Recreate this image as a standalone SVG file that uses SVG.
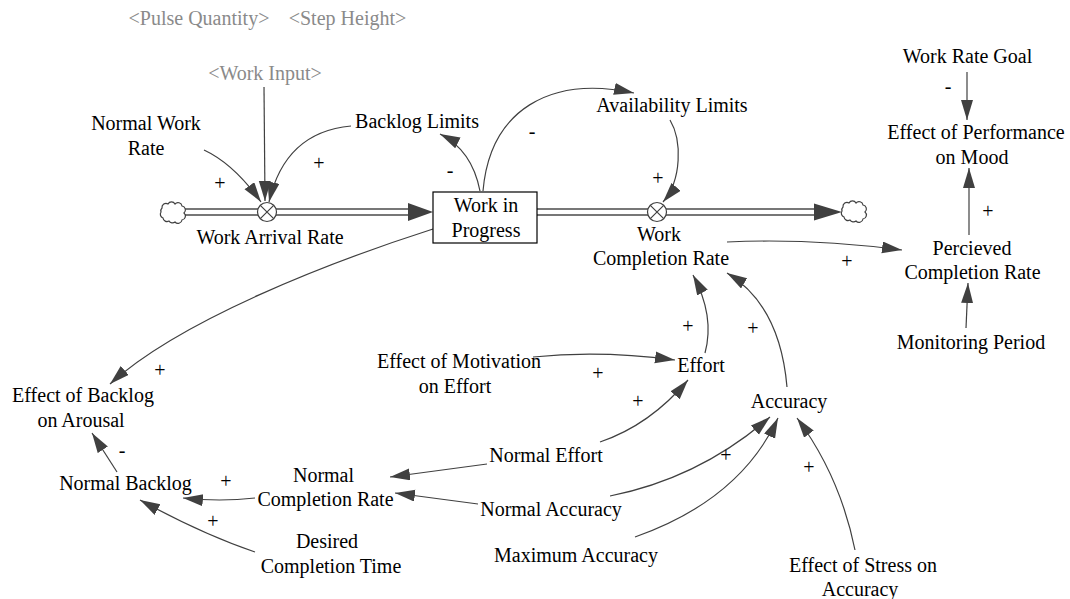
<svg xmlns="http://www.w3.org/2000/svg" width="1070" height="599" viewBox="0 0 1070 599" font-family="'Liberation Serif', 'Times New Roman', Times, serif">
  <style>
    text { font-family: "Liberation Serif", "Times New Roman", Times, "DejaVu Serif", serif; font-size: 20px; fill: #000; text-anchor: middle; }
    text.shadow { fill: #8a8a8a; }
    .link { fill: none; stroke: #404040; stroke-width: 1.2; marker-end: url(#head); }
    .pipe-out { fill: none; stroke: #4a4a4a; stroke-width: 7.6; }
    .pipe-in { fill: none; stroke: #fff; stroke-width: 4.6; }
    .valve { fill: #fff; stroke: #404040; stroke-width: 1.2; }
    .cloud { fill: #fff; stroke: #404040; stroke-width: 1.2; }
    .stock { fill: #fff; stroke: #000; stroke-width: 1.2; }
    .flowhead { fill: #404040; }
  </style>
  <defs>
    <marker id="head" markerUnits="userSpaceOnUse" markerWidth="21" markerHeight="13" refX="20" refY="6" orient="auto">
      <path d="M0,0 L20,6 L0,12 z" fill="#404040"/>
    </marker>
    <path id="cloudShape" d="M162,208 a4,4 0 0 1 6,-4 a4,4 0 0 1 7,0 a4,4 0 0 1 7,2 a4,4 0 0 1 2,7 a4,4 0 0 1 -2,7 a4,4 0 0 1 -7,2 a4,4 0 0 1 -6,-1 a4,4 0 0 1 -6,-3 a4,4 0 0 1 -2,-6 a4,4 0 0 1 1,-4 z"/>
    <g id="valveShape">
      <circle class="valve" r="9.5"/>
      <path d="M-6.7,-6.7 L6.7,6.7 M-6.7,6.7 L6.7,-6.7" stroke="#404040" stroke-width="1.2"/>
    </g>
  </defs>

  <!-- material flows: pipes, valves, clouds -->
  <g id="flows">
    <path class="pipe-out" d="M184,212 H410"/>
    <path class="pipe-in" d="M184,212 H410"/>
    <polygon class="flowhead" points="408,203 433,212 408,221"/>
    <path class="pipe-out" d="M537,212 H816"/>
    <path class="pipe-in" d="M537,212 H816"/>
    <polygon class="flowhead" points="814,203.5 842,212 814,220.5"/>
    <use href="#cloudShape" class="cloud"/>
    <use href="#cloudShape" class="cloud" transform="translate(681,-1)"/>
  </g>

  <!-- causal links -->
  <g id="connectors">
    <path class="link" d="M204,150 Q234,164 261,202"/>
    <path class="link" d="M264,87 L265,201"/>
    <path class="link" d="M351,126 Q285,132 269,202"/>
    <path class="link" d="M480,191 Q472,150 440,134"/>
    <path class="link" d="M483,191 C490,110 550,75 634,93"/>
    <path class="link" d="M670,120 C682,140 682,180 663,202"/>
    <path class="link" d="M727,242 Q810,238 902,250"/>
    <path class="link" d="M967,72 L967,120"/>
    <path class="link" d="M969,235 L969,168"/>
    <path class="link" d="M966,328 L968,283"/>
    <path class="link" d="M433,229 C330,262 180,320 110,384"/>
    <path class="link" d="M117,472 L92,433"/>
    <path class="link" d="M255,498 Q220,502 183,498"/>
    <path class="link" d="M255,552 Q202,534 140,500"/>
    <path class="link" d="M487,464 L390,477"/>
    <path class="link" d="M478,504 L395,493"/>
    <path class="link" d="M705,353 Q715,316 693,275"/>
    <path class="link" d="M787,387 Q780,305 727,273"/>
    <path class="link" d="M533,357 Q600,350 675,360"/>
    <path class="link" d="M600,442 Q650,425 688,380"/>
    <path class="link" d="M610,496 Q700,478 770,417"/>
    <path class="link" d="M635,537 Q740,500 778,418"/>
    <path class="link" d="M855,550 Q840,476 797,418"/>
  </g>

  <!-- polarity signs -->
  <g id="polarities">
    <text x="220" y="190">+</text>
    <text x="319" y="170">+</text>
    <text x="450" y="177">-</text>
    <text x="532" y="138">-</text>
    <text x="658" y="185">+</text>
    <text x="847" y="268">+</text>
    <text x="948" y="93">-</text>
    <text x="988" y="218">+</text>
    <text x="160" y="377">+</text>
    <text x="122" y="457">-</text>
    <text x="226" y="488">+</text>
    <text x="213" y="528">+</text>
    <text x="688" y="333">+</text>
    <text x="753" y="335">+</text>
    <text x="598" y="380">+</text>
    <text x="638" y="408">+</text>
    <text x="726" y="462">+</text>
    <text x="809" y="474">+</text>
  </g>

  <!-- nodes -->
  <g id="pulse-quantity"><text class="shadow" x="199" y="25">&lt;Pulse Quantity&gt;</text></g>
  <g id="step-height"><text class="shadow" x="347.5" y="25">&lt;Step Height&gt;</text></g>
  <g id="work-input"><text class="shadow" x="265" y="80">&lt;Work Input&gt;</text></g>
  <g id="normal-work-rate"><text x="146" y="130">Normal Work</text><text x="146" y="155">Rate</text></g>
  <g id="backlog-limits"><text x="417" y="128">Backlog Limits</text></g>
  <g id="work-arrival-rate">
    <use href="#valveShape" x="267" y="212"/>
    <text x="270" y="244">Work Arrival Rate</text>
  </g>
  <g id="work-in-progress">
    <rect class="stock" x="433" y="192" width="104" height="51"/>
    <text x="486" y="212">Work in</text>
    <text x="486" y="237">Progress</text>
  </g>
  <g id="availability-limits"><text x="672" y="112">Availability Limits</text></g>
  <g id="work-completion-rate">
    <use href="#valveShape" x="657" y="212"/>
    <text x="659" y="241">Work</text>
    <text x="661" y="265">Completion Rate</text>
  </g>
  <g id="work-rate-goal"><text x="967.5" y="63">Work Rate Goal</text></g>
  <g id="effect-of-performance-on-mood"><text x="976" y="138.5">Effect of Performance</text><text x="972" y="163.5">on Mood</text></g>
  <g id="percieved-completion-rate"><text x="972" y="255">Percieved</text><text x="972.5" y="279">Completion Rate</text></g>
  <g id="monitoring-period"><text x="971" y="349">Monitoring Period</text></g>
  <g id="effect-of-backlog-on-arousal"><text x="83" y="402">Effect of Backlog</text><text x="81" y="427">on Arousal</text></g>
  <g id="normal-backlog"><text x="125.5" y="490">Normal Backlog</text></g>
  <g id="normal-completion-rate"><text x="323.5" y="482">Normal</text><text x="325.5" y="506">Completion Rate</text></g>
  <g id="desired-completion-time"><text x="327" y="548">Desired</text><text x="331" y="573">Completion Time</text></g>
  <g id="effect-of-motivation-on-effort"><text x="459" y="368">Effect of Motivation</text><text x="455" y="393">on Effort</text></g>
  <g id="effort"><text x="701" y="372">Effort</text></g>
  <g id="normal-effort"><text x="546" y="462">Normal Effort</text></g>
  <g id="accuracy"><text x="789" y="408">Accuracy</text></g>
  <g id="normal-accuracy"><text x="551" y="516">Normal Accuracy</text></g>
  <g id="maximum-accuracy"><text x="576" y="562">Maximum Accuracy</text></g>
  <g id="effect-of-stress-on-accuracy"><text x="863" y="572">Effect of Stress on</text><text x="860" y="596">Accuracy</text></g>
</svg>
